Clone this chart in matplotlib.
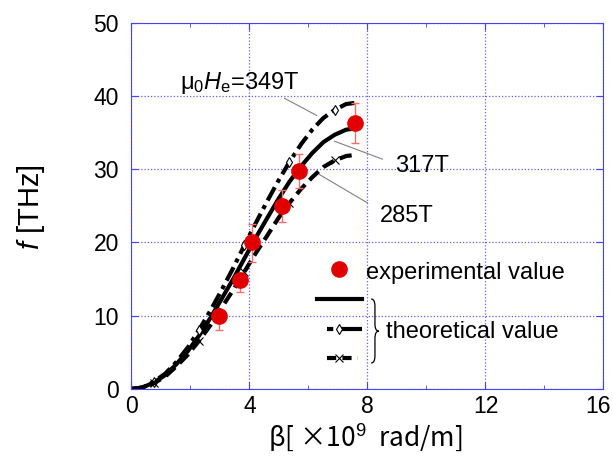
import numpy as np
import matplotlib.pyplot as plt
import matplotlib.transforms as mtrans
from matplotlib.path import Path
from matplotlib.patches import PathPatch

# curvas teoricas, beta en 1e9 rad/m, f en THz
beta = [0, 0.38, 0.77, 1.15, 1.53, 1.92, 2.30, 2.68, 3.06, 3.45, 3.83,
        4.21, 4.60, 4.98, 5.36, 5.75, 6.13, 6.51, 6.89, 7.28, 7.66]
f_317 = [0, 0.2, 0.9, 1.9, 3.4, 5.2, 7.3, 9.7, 12.3, 15.0, 17.8,
         20.6, 23.3, 25.9, 28.3, 30.4, 32.2, 33.7, 34.7, 35.4, 35.6]
f_349 = [0, 0.2, 1.0, 2.1, 3.7, 5.7, 8.1, 10.7, 13.5, 16.5, 19.6,
         22.6, 25.6, 28.4, 31.0, 33.4, 35.4, 37.0, 38.1, 38.9, 39.1]
f_285 = [0, 0.2, 0.8, 1.7, 3.1, 4.7, 6.6, 8.7, 11.1, 13.5, 16.0,
         18.5, 20.9, 23.3, 25.4, 27.3, 28.9, 30.3, 31.2, 31.8, 32.0]

# valores experimentales
exp_x = [2.98, 3.68, 4.09, 5.09, 5.69, 7.58]
exp_y = [9.9, 14.9, 20.0, 25.0, 29.8, 36.3]
err_lo = [1.8, 1.7, 2.7, 2.2, 2.4, 2.75]
err_hi = [0.8, 0.8, 2.5, 2.2, 2.3, 2.75]

x_ticks = [0, 4, 8, 12, 16]
y_ticks = [0, 10, 20, 30, 40, 50]

plt.rcParams['font.family'] = ['Liberation Sans', 'DejaVu Sans']
plt.rcParams['mathtext.fontset'] = 'custom'
plt.rcParams['mathtext.rm'] = 'Liberation Sans'
plt.rcParams['mathtext.it'] = 'Liberation Sans:italic'

azul = '#4444ff'

fig = plt.figure(figsize=(6.13, 4.57), dpi=100)
ax = fig.add_axes([0.2142, 0.1488, 0.7703, 0.8015])

ax.plot(beta, f_317, color='k', lw=3)
ax.plot(beta, f_349, color='k', lw=3, linestyle=(0, (3.6, 1.3, 1, 1.3)),
        marker='d', markevery=(2, 4), ms=5, mfc='white', mec='k', mew=0.8)
ax.plot(beta, f_285, color='k', lw=3, linestyle=(0, (3, 1.5)),
        marker='x', markevery=(2, 4), ms=6, mec='k', mew=0.8)

ax.errorbar(exp_x, exp_y, yerr=[err_lo, err_hi], fmt='none', ecolor='#f07070',
            elinewidth=1, capsize=3, capthick=1, zorder=4)
ax.plot(exp_x, exp_y, 'o', color='#e00000', ms=11, zorder=5)

ax.set_xlim(0, 16)
ax.set_ylim(0, 50)
ax.set_xticks(x_ticks)
ax.set_yticks(y_ticks)
ax.set_xticks([2, 6, 10, 14], minor=True)
ax.tick_params(which='both', direction='in', color=azul, labelcolor='k',
               top=True, right=True, labelsize=16.5)
ax.tick_params(which='major', length=5)
ax.tick_params(which='minor', length=3)
ax.tick_params(axis='x', pad=4)
ax.tick_params(axis='y', pad=9)
for s in ax.spines.values():
    s.set_color(azul)
    s.set_linewidth(0.8)
ax.grid(True, color=azul, linestyle=(0, (1, 1.6)), lw=0.9, alpha=0.85)
ax.set_axisbelow(True)

# el 16 queda justo en el borde, lo corro un poco
ultimo = ax.get_xticklabels()[-1]
ultimo.set_transform(ultimo.get_transform() + mtrans.ScaledTranslation(-4 / 72, 0, fig.dpi_scale_trans))

# etiquetas de cada curva
ax.text(1.65, 40.9, r'μ$_0$$H_\mathrm{e}$=349T', fontsize=17, va='baseline')
ax.annotate('', xy=(6.37, 37.15), xytext=(5.10, 39.88),
            arrowprops=dict(arrowstyle='-', color='gray', lw=0.8))
ax.text(8.94, 29.65, '317T', fontsize=17, va='baseline')
ax.annotate('', xy=(6.79, 33.97), xytext=(8.60, 31.24),
            arrowprops=dict(arrowstyle='-', color='gray', lw=0.8))
ax.text(8.41, 22.8, '285T', fontsize=17, va='baseline')
ax.annotate('', xy=(6.28, 29.5), xytext=(8.09, 25.2),
            arrowprops=dict(arrowstyle='-', color='gray', lw=0.8))

# leyenda hecha a mano
tr = ax.transAxes
ax.plot([0.4405], [0.3268], 'o', color='#e00000', ms=11, transform=tr, clip_on=False)
ax.text(0.4964, 0.318, 'experimental value', fontsize=17, va='center', transform=tr)
ax.plot([0.394, 0.488], [0.2449, 0.2449], color='k', lw=3, transform=tr, clip_on=False)
ax.plot([0.4138, 0.488], [0.163, 0.163], color='k', lw=3,
        linestyle=(0, (1.5, 1.2, 6)), transform=tr, clip_on=False)
ax.plot([0.4405], [0.163], 'd', ms=5, mfc='white', mec='k', mew=0.8, transform=tr)
ax.plot([0.4138, 0.4807], [0.0838, 0.0838], color='k', lw=3,
        linestyle=(0, (2.2, 1.5)), transform=tr, clip_on=False)
ax.plot([0.4405], [0.0838], 'x', ms=6, mec='k', mew=0.8, transform=tr)

# llave }
x0, xm, xt = 0.508, 0.516, 0.524
yt, yb, ymid = 0.2457, 0.071, 0.158
verts = [(x0, yt), (xm, yt), (xm, yt - 0.02), (xm, ymid + 0.02),
         (xm, ymid), (xt, ymid), (xm, ymid), (xm, ymid - 0.02),
         (xm, yb + 0.02), (xm, yb), (x0, yb)]
codes = [Path.MOVETO, Path.CURVE3, Path.CURVE3, Path.LINETO,
         Path.CURVE3, Path.CURVE3, Path.CURVE3, Path.CURVE3,
         Path.LINETO, Path.CURVE3, Path.CURVE3]
ax.add_patch(PathPatch(Path(verts, codes), fill=False, lw=0.9, color='k', transform=tr))
ax.text(0.5394, 0.1556, 'theoretical value', fontsize=17, va='center', transform=tr)

fig.text(0.05, 0.547, '$f$ [THz]', rotation=90, fontsize=21, ha='center', va='center')
fig.text(0.5954, 0.04, r'β[ ×10$^{9}$  rad/m]', fontsize=19,
         family=['Noto Sans CJK JP', 'DejaVu Sans'], ha='center', va='center')

fig.savefig('out.png', dpi=100)
